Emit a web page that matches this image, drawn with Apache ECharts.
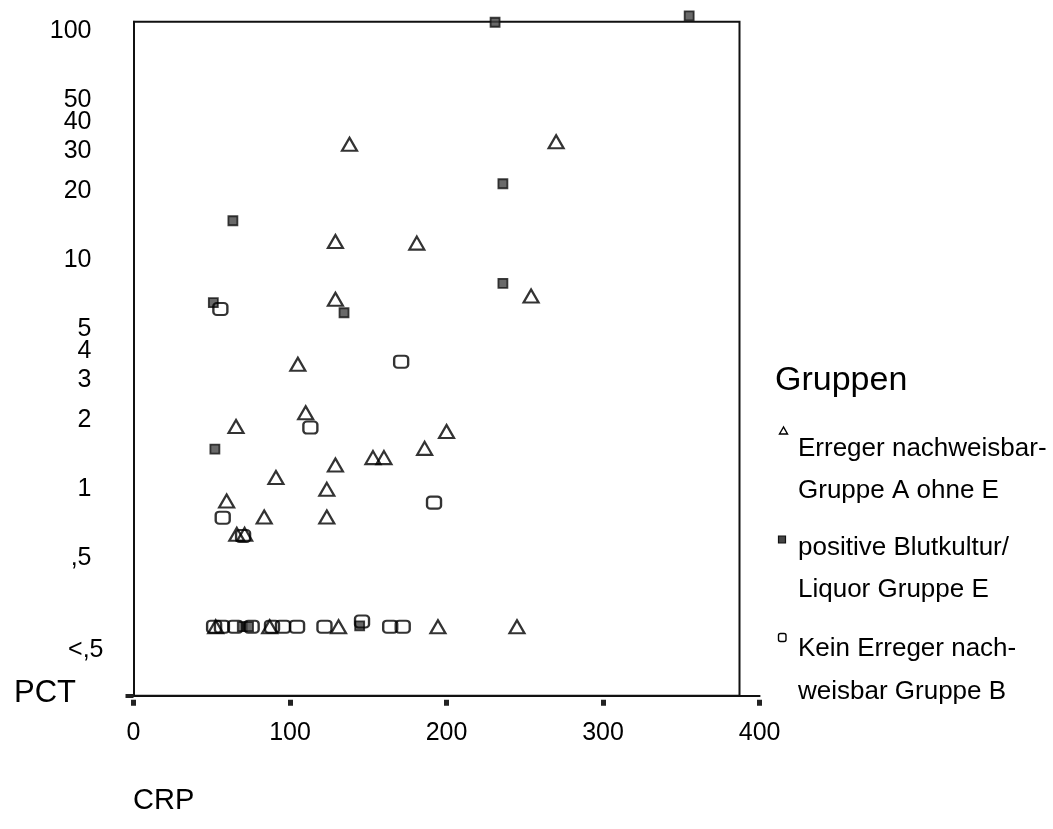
<!DOCTYPE html>
<html>
<head>
<meta charset="utf-8">
<script src="https://cdn.jsdelivr.net/npm/echarts@6/dist/echarts.min.js"></script>
<style>
  html, body { margin: 0; padding: 0; background: #ffffff; }
  #chart { width: 1053px; height: 829px; }
</style>
</head>
<body>
<div id="chart"></div>
<script>
// CRP (x) against PCT (y, logarithmic) for three patient groups.

// PCT results below 0.5 are plotted on a common row at this value
const LT05 = 0.243;

// Gruppe A: Erreger nachweisbar, ohne E (triangles)
const groupA_crp = [138, 270, 129, 181, 129, 254, 105, 110, 65.5, 200, 186, 153, 160, 129, 91, 123.5, 59.5, 83.5, 123.5, 66, 71, 52.5, 87, 131, 194.5, 245];
const groupA_pct = [31.1, 31.9, 11.7, 11.5, 6.54, 6.76, 3.40, 2.09, 1.82, 1.73, 1.46, 1.33, 1.33, 1.235, 1.09, 0.967, 0.86, 0.732, 0.732, 0.615, 0.615, LT05, LT05, LT05, LT05, LT05];

// Gruppe E: positive Blutkultur / Liquor (filled squares)
const groupE_crp = [231, 355, 236, 63.5, 236, 51, 134.5, 52, 69.5, 73.5, 144.5];
const groupE_pct = [106, 113, 20.9, 14.4, 7.68, 6.32, 5.71, 1.45, LT05, LT05, 0.245];

// Gruppe B: kein Erreger nachweisbar (rounded squares)
const groupB_crp = [55.5, 171, 113, 192, 57, 70, 51.5, 56.5, 65, 75.5, 88.5, 95.5, 104.5, 122, 146, 164, 172];
const groupB_pct = [5.93, 3.49, 1.80, 0.846, 0.727, 0.605, LT05, LT05, LT05, LT05, LT05, LT05, LT05, LT05, 0.256, LT05, LT05];

// Axis ticks and labels
const xTickValues = [0, 100, 200, 300, 400];
const yTickValues = [100, 50, 40, 30, 20, 10, 5, 4, 3, 2, 1, 0.5];
const yTickLabels = ['100', '50', '40', '30', '20', '10', '5', '4', '3', '2', '1', ',5'];
const belowLabelValue = 0.198;
const belowLabelText = '<,5';
const pctRange = [0.1214, 106.6];
const crpRange = [0, 400];

const seriesNames = ['Erreger nachweisbar-Gruppe A ohne E', 'positive Blutkultur/Liquor Gruppe E', 'Kein Erreger nachweisbar Gruppe B'];
const legendLines = [
  ['Erreger nachweisbar-', 'Gruppe A ohne E'],
  ['positive Blutkultur/', 'Liquor Gruppe E'],
  ['Kein Erreger nach-', 'weisbar Gruppe B']
];

const FONT = '"Liberation Sans", Arial, Helvetica, sans-serif';
const lg = Math.log10;
const yMin = lg(pctRange[0]);
const yMax = lg(pctRange[1]);

function pairs(xs, ys) {
  return xs.map((x, i) => [x, lg(ys[i])]);
}

function labelFor(v) {
  for (let i = 0; i < yTickValues.length; i++) {
    if (Math.abs(lg(yTickValues[i]) - v) < 1e-6) return yTickLabels[i];
  }
  return '';
}

const chart = echarts.init(document.getElementById('chart'), null, { renderer: 'canvas' });

const plotGrid = { left: 133.5, right: 293.4, top: 21.7, bottom: 133.3, show: false };
const frameGrid = { left: 134, right: 313.5, top: 21.7, bottom: 133.3, show: true,
  borderColor: '#111', borderWidth: 2, backgroundColor: 'transparent' };

const hiddenAxis = { show: false, type: 'value', min: 0, max: 1 };

// y labels sit a few pixels below their tick: a short line box hung from the tick
const yLabelStyle = { fontSize: 25, fontFamily: FONT, color: '#000', verticalAlign: 'top', lineHeight: 6 };

const legendItems = [];
// legend title
legendItems.push({ type: 'text', x: 775, y: 381,
  style: { text: 'Gruppen', font: '34px ' + FONT, fill: '#000', verticalAlign: 'middle' } });
// legend markers
legendItems.push({ type: 'polygon', shape: { points: [[783.5, 427], [779.5, 434], [787.5, 434]] },
  style: { fill: 'transparent', stroke: '#000', lineWidth: 1.4 } });
legendItems.push({ type: 'rect', shape: { x: 778.5, y: 536, width: 7, height: 7 },
  style: { fill: '#444', stroke: '#111', lineWidth: 1.2 } });
legendItems.push({ type: 'rect', shape: { x: 778.5, y: 633.5, width: 7.5, height: 8, r: 2 },
  style: { fill: 'transparent', stroke: '#000', lineWidth: 1.4 } });
// legend texts
const lineCenters = [[449, 491], [548, 590], [649, 692]];
legendLines.forEach((lines, i) => {
  lines.forEach((t, j) => {
    legendItems.push({ type: 'text', x: 798, y: lineCenters[i][j],
      style: { text: t, font: '26px ' + FONT, fill: '#000', verticalAlign: 'middle' } });
  });
});
// axis titles
legendItems.push({ type: 'text', x: 14, y: 693,
  style: { text: 'PCT', font: '31px ' + FONT, fill: '#000', verticalAlign: 'middle' } });
legendItems.push({ type: 'text', x: 133, y: 801,
  style: { text: 'CRP', font: '29px ' + FONT, fill: '#000', verticalAlign: 'middle' } });

const option = {
  animation: false,
  backgroundColor: '#ffffff',
  grid: [plotGrid, frameGrid],
  xAxis: [
    {
      type: 'value', gridIndex: 0, min: crpRange[0], max: crpRange[1], interval: 100,
      axisLine: { show: true, onZero: false, lineStyle: { color: '#111', width: 2 } },
      axisTick: { show: true, length: 10, lineStyle: { color: '#222', width: 5, type: [0, 4, 6, 100] } },
      axisLabel: { show: true, margin: 25, fontSize: 25, fontFamily: FONT, color: '#000',
        customValues: xTickValues, formatter: v => String(v) },
      splitLine: { show: false }
    },
    Object.assign({ gridIndex: 1 }, hiddenAxis)
  ],
  yAxis: [
    {
      type: 'value', gridIndex: 0, min: yMin, max: yMax, position: 'left',
      axisLine: { show: true, onZero: false, lineStyle: { color: '#111', width: 2 } },
      axisTick: { show: true, length: 8, lineStyle: { color: '#222', width: 4 }, customValues: [yMin] },
      axisLabel: Object.assign({ show: true, margin: 42,
        customValues: yTickValues.map(lg), formatter: labelFor }, yLabelStyle),
      splitLine: { show: false }
    },
    {
      type: 'value', gridIndex: 0, min: yMin, max: yMax, position: 'left', offset: 0,
      axisLine: { show: false, onZero: false }, axisTick: { show: false }, splitLine: { show: false },
      axisLabel: Object.assign({ show: true, margin: 30,
        customValues: [lg(belowLabelValue)], formatter: () => belowLabelText }, yLabelStyle)
    },
    Object.assign({ gridIndex: 1 }, hiddenAxis)
  ],
  series: [
    {
      name: seriesNames[0], type: 'scatter', xAxisIndex: 0, yAxisIndex: 0, clip: false,
      symbol: 'triangle', symbolSize: [15, 13],
      itemStyle: { color: 'rgba(0,0,0,0)', borderColor: '#000', borderWidth: 2.2 },
      data: pairs(groupA_crp, groupA_pct)
    },
    {
      name: seriesNames[1], type: 'scatter', xAxisIndex: 0, yAxisIndex: 0, clip: false,
      symbol: 'rect', symbolSize: [9, 9],
      itemStyle: { color: '#444', borderColor: '#111', borderWidth: 1.8 },
      data: pairs(groupE_crp, groupE_pct)
    },
    {
      name: seriesNames[2], type: 'scatter', xAxisIndex: 0, yAxisIndex: 0, clip: false,
      symbol: 'roundRect', symbolSize: [14, 12],
      itemStyle: { color: 'rgba(0,0,0,0)', borderColor: '#000', borderWidth: 2.2 },
      data: pairs(groupB_crp, groupB_pct)
    }
  ],
  graphic: legendItems
};

chart.setOption(option);
</script>
</body>
</html>
